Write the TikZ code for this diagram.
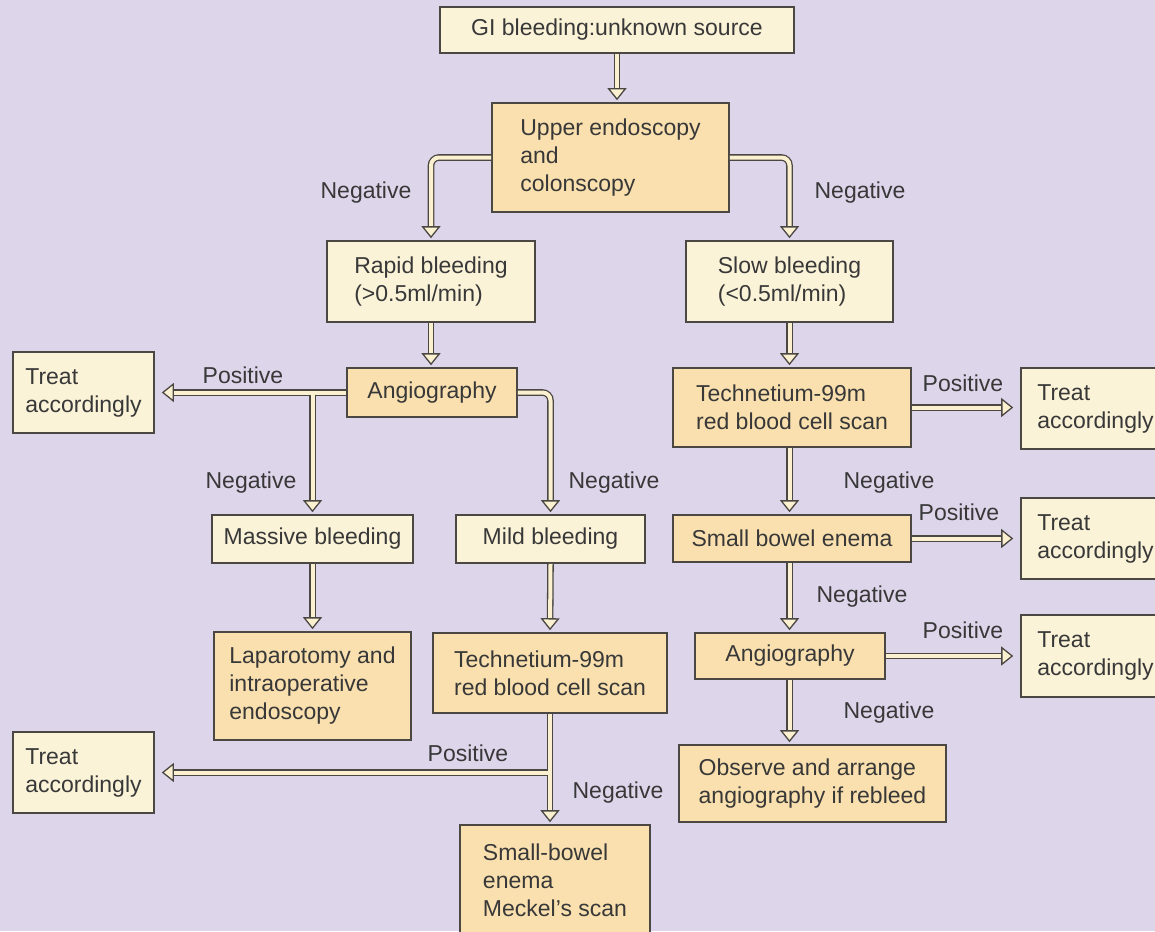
\documentclass[tikz,border=0pt]{standalone}
\usepackage{fontspec}
\setmainfont{Liberation Sans}
\usetikzlibrary{arrows.meta}
\definecolor{bgc}{HTML}{DDD5EA}
\definecolor{pale}{HTML}{FBF3D8}
\definecolor{deep}{HTML}{F9E0AE}
\definecolor{edgec}{HTML}{4B4743}
\definecolor{txtc}{HTML}{383838}
\definecolor{arrowin}{HTML}{FBF1D0}
\newcommand{\mybox}[7]{\node[#2, minimum width={#5-#3}, minimum height={#6-#4}] (#1) at ({(#3+#5)/2},{(#4+#6)/2}) {#7};}
\begin{document}
\begin{tikzpicture}[x=1pt,y=-1pt,
  box/.style={draw=edgec, line width=1.6pt, inner sep=0pt, text=txtc, font=\fontsize{23}{28}\selectfont, align=left},
  palebox/.style={box, fill=pale},
  deepbox/.style={box, fill=deep},
  lbl/.style={text=txtc, font=\fontsize{23}{28}\selectfont, inner sep=0pt},
  conn/.style={draw=edgec, line width=1.3pt, double=arrowin, double distance=4pt, shorten >=2pt, -{Triangle[open, fill=arrowin, length=12pt, width=19pt, line width=1.3pt]}},
  hconn/.style={conn, shorten >=7pt},
]
\useasboundingbox (0,0) rectangle (1155,931);
\fill[bgc] (0,0) rectangle (1155,931);
\begin{scope}
\clip (0,0) rectangle (1155,931);
% boxes
\mybox{gi}{palebox}{440}{7}{794}{53}{GI bleeding:unknown source}
\mybox{upper}{deepbox}{492}{103}{729}{212}{Upper endoscopy\\and\\colonscopy}
\mybox{rapid}{palebox}{327}{241}{535}{322}{Rapid bleeding\\(>0.5ml/min)}
\mybox{slow}{palebox}{686}{241}{893}{322}{Slow bleeding\\(<0.5ml/min)}
\mybox{angioL}{deepbox}{347}{368}{517}{417}{Angiography}
\mybox{treatTL}{palebox}{13}{352}{154}{433}{Treat\\accordingly}
\mybox{massive}{palebox}{212}{515}{413}{563}{Massive bleeding}
\mybox{mild}{palebox}{456}{515}{645}{563}{Mild bleeding}
\mybox{lap}{deepbox}{214}{632}{411}{740}{Laparotomy and\\intraoperative\\endoscopy}
\mybox{techL}{deepbox}{433}{633}{667}{713}{Technetium-99m\\red blood cell scan}
\mybox{treatLB}{palebox}{13}{732}{154}{813}{Treat\\accordingly}
\mybox{sbL}{deepbox}{460}{825}{650}{936}{Small-bowel\\enema\\Meckel's scan}
\mybox{techR}{deepbox}{673}{368}{911}{447}{Technetium-99m\\red blood cell scan}
\mybox{treatRT}{palebox}{1021}{368}{1170}{449}{Treat\\accordingly}
\mybox{sbR}{deepbox}{673}{515}{911}{562}{Small bowel enema}
\mybox{treatRM}{palebox}{1021}{498}{1170}{579}{Treat\\accordingly}
\mybox{angioR}{deepbox}{695}{633}{885}{679}{Angiography}
\mybox{treatRL}{palebox}{1021}{615}{1170}{697}{Treat\\accordingly}
\mybox{observe}{deepbox}{679}{745}{946}{822}{Observe and arrange\\angiography if rebleed}
% connectors
\draw[conn] (gi.south) -- (gi.south |- upper.north);
\draw[conn, rounded corners=8pt] (upper.west) -| (rapid.north);
\draw[conn, rounded corners=8pt] (upper.east) -| (slow.north);
\draw[conn] (rapid.south) -- (rapid.south |- angioL.north);
\draw[hconn] (angioL.west) -- (treatTL.east);
\coordinate (j1) at (massive.north |- angioL.west);
\draw[conn] ([yshift=-2pt]j1) -- (massive.north);
\draw[conn, rounded corners=8pt] (angioL.east) -| (mild.north);
\draw[conn] (massive.south) -- (lap.north);
\draw[conn] (mild.south) -- (techL.north);
\draw[conn] (techL.south) -- (techL.south |- sbL.north);
\coordinate (j2) at (techL.south |- treatLB.east);
\draw[hconn] ([xshift=-2pt]j2) -- (treatLB.east);
\draw[conn] (slow.south) -- (slow.south |- techR.north);
\draw[hconn] (techR.east) -- (techR.east -| treatRT.west);
\draw[conn] (slow.south |- techR.south) -- (slow.south |- sbR.north);
\draw[hconn] (sbR.east) -- (sbR.east -| treatRM.west);
\draw[conn] (slow.south |- sbR.south) -- (slow.south |- angioR.north);
\draw[hconn] (angioR.east) -- (angioR.east -| treatRL.west);
\draw[conn] (slow.south |- angioR.south) -- (slow.south |- observe.north);
\end{scope}
% labels
\node[lbl] (n1) at (366,193) {Negative};
\node[lbl] (n2) at (860,193) {Negative};
\node[lbl] (p1) at (243,375) {Positive};
\node[lbl] (n3) at (251,483) {Negative};
\node[lbl] (n4) at (614,483) {Negative};
\node[lbl] (p2) at (468,753) {Positive};
\node[lbl] (n5) at (618,793) {Negative};
\node[lbl] (p3) at (963,383) {Positive};
\node[lbl] (n6) at (889,483) {Negative};
\node[lbl] (p4) at (959,512) {Positive};
\node[lbl] (n7) at (862,597) {Negative};
\node[lbl] (p5) at (963,630) {Positive};
\node[lbl] (n8) at (889,713) {Negative};
\end{tikzpicture}
\end{document}
